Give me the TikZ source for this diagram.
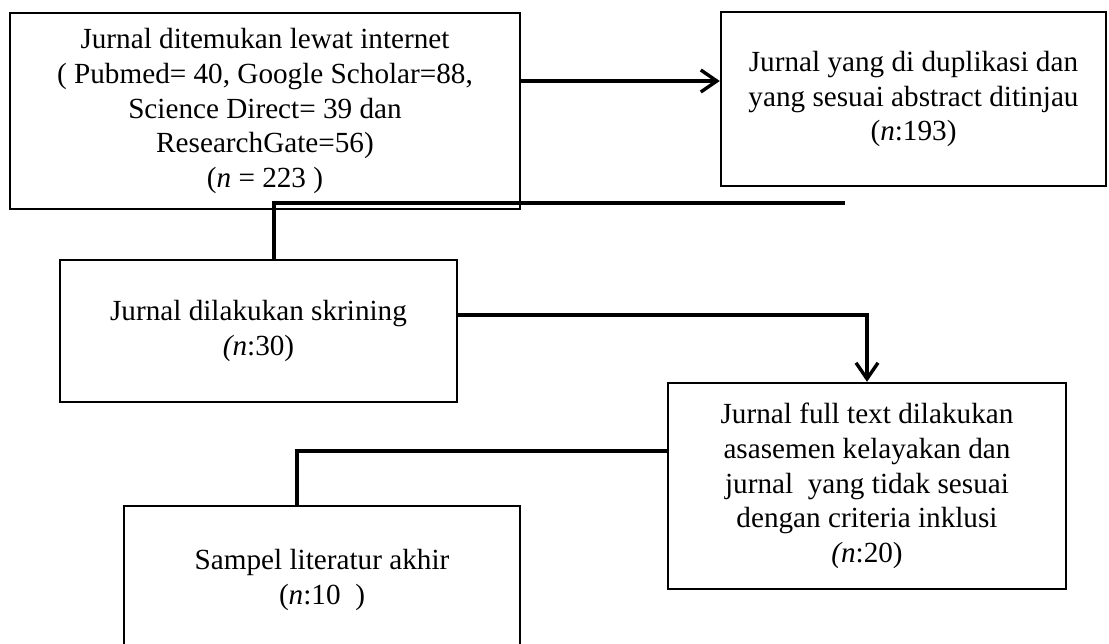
\documentclass[tikz,border=0pt]{standalone}
\usepackage{fontspec}
\setmainfont{Liberation Serif}
\usetikzlibrary{arrows.meta}

\begin{document}
\begin{tikzpicture}[x=0.5pt,y=-0.5pt,>={Straight Barb[length=8pt,width=11pt]},
    main box/.style={draw,line width=1.2pt,align=center,inner sep=0pt,font=\fontsize{14.6}{17.4}\selectfont},
    flow line/.style={line width=1.7pt}]
            \useasboundingbox (0,0) rectangle (1109,643);

            \node[main box,minimum width=255pt,minimum height=98pt] (A) at (265,111)
                {Jurnal ditemukan lewat internet\\( Pubmed= 40, Google Scholar=88,\\Science Direct= 39 dan\\ResearchGate=56)\\(\textit{n} = 223 )};
            \node[main box,minimum width=192.5pt,minimum height=87pt] (B) at (913.5,99)
                {Jurnal yang di duplikasi dan\\yang sesuai abstract ditinjau\\(\textit{n}:193)};
            \node[main box,minimum width=198.5pt,minimum height=71pt] (C) at (258.5,331)
                {Jurnal dilakukan skrining\\\textit{(n}:30)};
            \node[main box,minimum width=199pt,minimum height=103pt] (D) at (867,486)
                {Jurnal full text dilakukan\\asasemen kelayakan dan\\jurnal\ \ yang tidak sesuai\\dengan criteria inklusi\\\textit{(n}:20)};
            \node[main box,minimum width=198pt,minimum height=74pt] (E) at (322,580)
                {Sampel literatur akhir\\(\textit{n}:10\ \ )};

            \coordinate (split) at (274,203);
            \coordinate (split end) at (845,203);

            \draw[flow line,->] (A.east |- 0,81) -- (B.west |- 0,81);
            \draw[flow line] (split end) -- (split) -- (split |- C.north);
            \draw[flow line,->] ([yshift=8pt]C.east) -| (D.north);
            \draw[flow line] ([yshift=17.5pt]D.west) -| ([xshift=-12.5pt]E.north);
        \end{tikzpicture}
\end{document}
